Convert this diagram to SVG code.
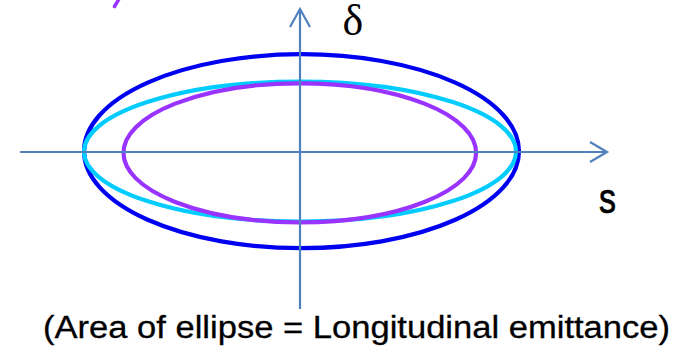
<svg xmlns="http://www.w3.org/2000/svg" width="679" height="348" viewBox="0 0 679 348">
<style>
.axis{stroke:#4f81bd;stroke-width:2.2;fill:none}
.ell{fill:none;stroke-width:4.2}
.lbl{fill:#000}
</style>
<rect width="679" height="348" fill="#fff"/>
<g id="fragment">
<line x1="119" y1="-1" x2="114.5" y2="6.5" stroke="#9933ff" stroke-width="3.5" stroke-linecap="round"/>
</g>
<g id="ellipses">
<ellipse id="outer-blue" class="ell" cx="301.5" cy="151.2" rx="217.5" ry="97" stroke="#0000f0"/>
<ellipse id="cyan" class="ell" cx="300" cy="151.6" rx="216" ry="70" stroke="#00ccff"/>
<ellipse id="purple" class="ell" cx="299.8" cy="152.8" rx="176.3" ry="69.5" stroke="#9933ff"/>
</g>
<g id="connectors">
<line class="axis" x1="20" y1="152" x2="607" y2="152"/>
<polyline class="axis" points="590,142 607,152 590,162"/>
<line class="axis" x1="300" y1="309" x2="300" y2="9"/>
<polyline class="axis" points="290,27 300,9 310,27"/>
</g>
<g id="labels">
<text class="lbl" x="342.5" y="35" font-family="Liberation Serif, serif" font-size="44">δ</text>
<text class="lbl" x="599" y="213" font-family="Liberation Sans, Arial, sans-serif" font-size="42" stroke="#000" stroke-width="0.7" textLength="17" lengthAdjust="spacingAndGlyphs">s</text>
<text class="lbl" x="43" y="338" font-family="Liberation Sans, Arial, sans-serif" font-size="31" stroke="#000" stroke-width="0.3" textLength="627" lengthAdjust="spacingAndGlyphs">(Area of ellipse = Longitudinal emittance)</text>
</g>
</svg>
